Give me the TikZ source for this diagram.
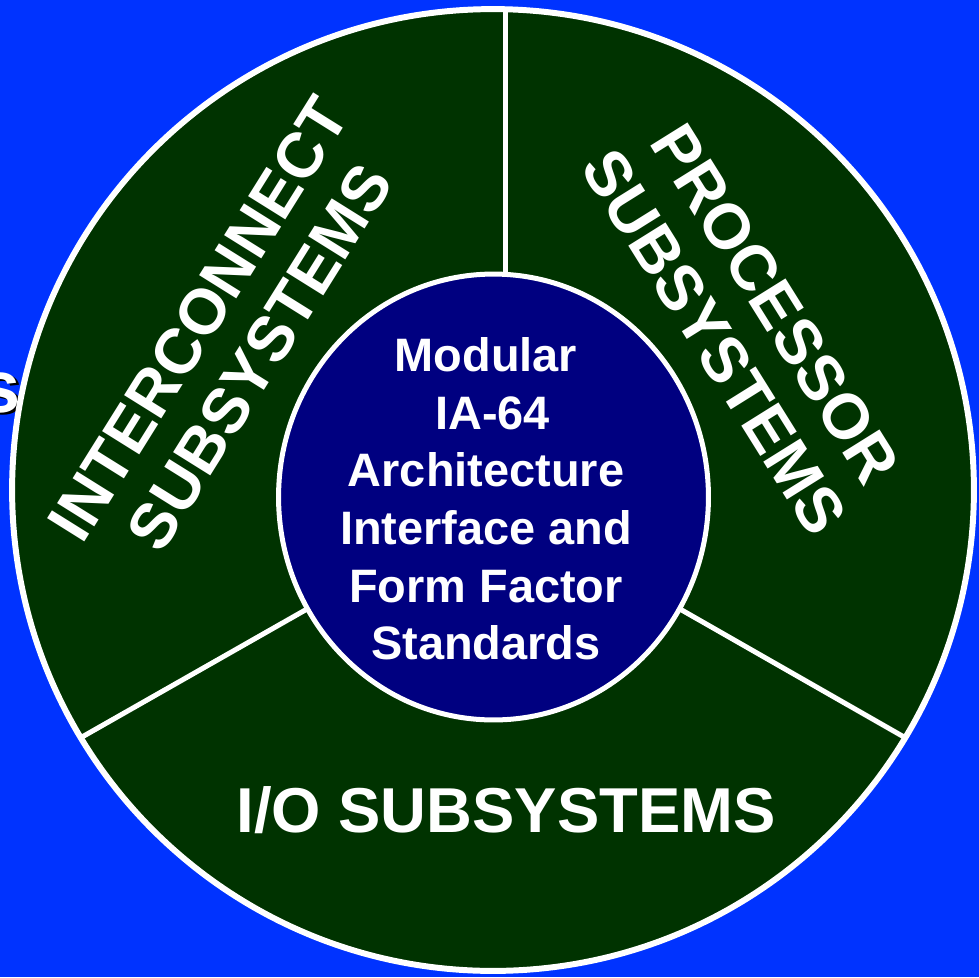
\documentclass[tikz,border=0pt]{standalone}
\usepackage{fontspec}
\setmainfont{Liberation Sans}
\usetikzlibrary{shapes.geometric}

\definecolor{bgblue}{HTML}{0033FF}
\definecolor{ringgreen}{HTML}{003300}
\definecolor{hubnavy}{HTML}{000080}

\begin{document}
\begin{tikzpicture}[x=0.02cm, y=-0.02cm,
  ring/.style={circle, draw=white, line width=3.4pt, fill=ringgreen, minimum size=19.24cm, inner sep=0pt, outer sep=0pt},
  hub/.style={ellipse, draw=white, line width=2.85pt, fill=hubnavy, minimum width=8.6cm, minimum height=8.92cm, inner sep=0pt, outer sep=0pt},
  divider/.style={draw=white, line width=2.85pt},
  sector/.style={text=white, align=center, inner sep=0pt, font=\bfseries\fontsize{36.3}{41}\selectfont},
  cut/.style={anchor=base east, inner sep=0pt, font=\bfseries\fontsize{42}{50}\selectfont}
]
  \fill[bgblue] (0,0) rectangle (979,977);
  \useasboundingbox (0,0) rectangle (979,977);

  \node[cut, text=black] (sshadow) at (23.5,414.5) {s};
  \node[cut, text=white] (spart) at (21,412) {s};

  \node[ring] (outer) at (493,490) {};

  \node[hub, fill=none, draw=none] (innerpos) at (493.5,497) {};
  \draw[divider] (innerpos.87.5) -- (innerpos.87.5 |- outer.north);
  \draw[divider] (innerpos.211) -- (outer.211);
  \draw[divider] (innerpos.329) -- (outer.329);
  \node[hub] (inner) at (493.5,497) {};

  \node[text=white, align=center, inner sep=0pt, font=\bfseries\fontsize{26.7}{32.8}\selectfont] (std) at (486,499)
    {Modular\\\hspace*{.28em}IA-64\\Architecture\\Interface and\\Form Factor\\Standards};

  \node[sector, rotate=58] (inter) at (229,338) {INTERCONNECT\\SUBSYSTEMS};
  \node[sector, rotate=-58] (proc) at (745,323) {PROCESSOR\\SUBSYSTEMS};
  \node[text=white, anchor=base, inner sep=0pt, font=\bfseries\fontsize{36.1}{43}\selectfont] (io) at (506,832) {I/O SUBSYSTEMS};
\end{tikzpicture}
\end{document}
